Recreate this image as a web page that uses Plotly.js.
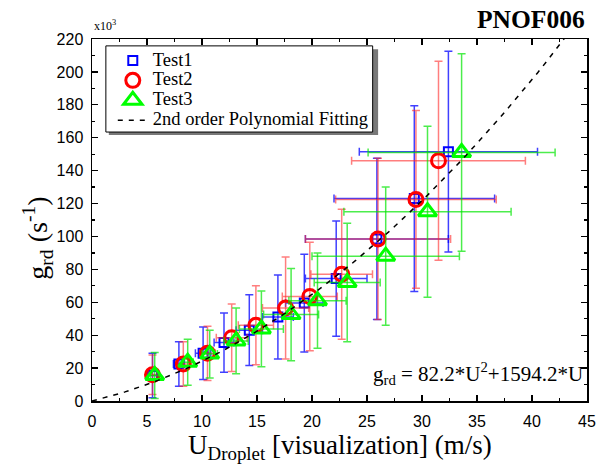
<!DOCTYPE html>
<html><head><meta charset="utf-8">
<script src="https://cdn.plot.ly/plotly-3.0.1.min.js"></script>
<style>html,body{margin:0;padding:0;background:#fff}</style>
</head><body>
<div id="chart" style="width:609px;height:470px"></div>
<script>
// Test1 (blue squares)
const t1_U  = [5.5, 7.9, 10.1, 12.0, 14.3, 16.9, 19.3, 22.2, 25.9, 29.3, 32.4];
const t1_g  = [15.5, 22.5, 29.0, 35.5, 43.0, 51.0, 59.5, 74.4, 98.5, 123.0, 151.5];
const t1_eU = [0.4, 0.5, 0.7, 0.9, 1.2, 1.4, 1.7, 2.8, 6.5, 7.3, 8.1];
const t1_eg = [13.5, 13.5, 16.0, 18.0, 21.5, 25.5, 29.7, 35.0, 49.0, 56.5, 61.0];
// Test2 (red circles)
const t2_U  = [5.5, 8.3, 10.5, 12.7, 14.9, 17.6, 19.8, 22.7, 26.0, 29.45, 31.5];
const t2_g  = [16.0, 22.5, 29.0, 38.5, 46.0, 56.5, 63.5, 77.0, 98.5, 122.5, 146.0];
const t2_eU = [0.4, 0.5, 0.7, 1.4, 1.6, 2.1, 2.5, 2.8, 6.6, 7.3, 7.9];
const t2_eg = [12.0, 13.5, 16.5, 20.5, 24.0, 31.0, 33.0, 39.5, 49.0, 54.0, 60.5];
// Test3 (green triangles)
const t3_U  = [5.7, 8.7, 10.7, 13.1, 15.4, 18.1, 20.5, 23.2, 26.7, 30.5, 33.6];
const t3_g  = [15.5, 23.5, 28.5, 36.5, 43.8, 52.5, 61.0, 72.0, 88.0, 115.0, 151.0];
const t3_eU = [0.4, 0.5, 0.7, 1.1, 2.0, 2.5, 2.6, 3.0, 6.7, 7.6, 8.5];
const t3_eg = [14.0, 14.0, 14.5, 20.0, 23.0, 28.0, 29.0, 36.0, 42.0, 52.0, 60.0];
// Fit coefficients printed on chart: g = a*U^2 + b*U  (s^-1), plotted in x10^3
const fitA = 82.2, fitB = 1594.2;
const fitU = [];
for (let u = 0; u <= 45.0001; u += 0.5) fitU.push(u);
const fitG = fitU.map(u => (fitA*u*u + fitB*u)/1000);

const serif = "Liberation Serif, Times New Roman, serif";
const sans = "Liberation Sans, Arial, sans-serif";
const big = s => '<span style="font-size:18.5px">' + s + '</span>';

function errTrace(name, x, y, ex, ey, color, barColor, symbol, size, lw) {
  return {
    type: 'scatter', mode: 'markers', name: big(name), x: x, y: y,
    marker: {symbol: symbol, size: size, color: color, line: {color: color, width: lw}},
    error_x: {type: 'data', array: ex, visible: true, color: barColor, thickness: 1.5, width: 4},
    error_y: {type: 'data', array: ey, visible: true, color: barColor, thickness: 1.5, width: 4},
    cliponaxis: false
  };
}

const traces = [
  errTrace('Test1', t1_U, t1_g, t1_eU, t1_eg, 'rgb(0,0,255)', 'rgba(0,0,255,0.75)', 'square-open', 9, 2),
  errTrace('Test2', t2_U, t2_g, t2_eU, t2_eg, 'rgb(255,0,0)', 'rgba(255,40,40,0.6)', 'circle-open', 14, 3),
  errTrace('Test3', t3_U, t3_g, t3_eU, t3_eg, 'rgb(0,255,0)', 'rgba(0,230,0,0.7)', 'triangle-up-open', 16, 3),
  {type: 'scatter', mode: 'lines', name: big('2nd order Polynomial Fitting'), x: fitU, y: fitG,
   line: {color: 'black', width: 1.5, dash: '5px,6px'}}
];

const axisCommon = {
  showline: true, linecolor: 'black', linewidth: 1.5, mirror: 'allticks',
  ticks: 'inside', ticklen: 6, tickwidth: 1.2, tickcolor: 'black',
  showgrid: false, zeroline: false,
  tickfont: {family: sans, size: 16, color: 'black'},
};

const layout = {
  width: 609, height: 470,
  margin: {l: 92, r: 22, t: 39, b: 69},
  paper_bgcolor: 'white', plot_bgcolor: 'white',
  showlegend: true,
  legend: {x: 0.042, y: 0.982, xanchor: 'left', yanchor: 'top',
           bgcolor: 'rgba(255,255,255,0)', borderwidth: 0,
           font: {family: serif, size: 13, color: 'black'}, tracegroupgap: 0},
  xaxis: Object.assign({}, axisCommon, {range: [0, 45], dtick: 5, ticklabelstandoff: 5,
         minor: {ticks: 'inside', dtick: 2.5, ticklen: 3, tickcolor: 'black', showgrid: false}}),
  yaxis: Object.assign({}, axisCommon, {range: [0, 220], dtick: 20, ticklabelstandoff: 4,
         minor: {ticks: 'inside', dtick: 10, ticklen: 3, tickcolor: 'black', showgrid: false}}),
  shapes: [
    {type: 'rect', xref: 'paper', yref: 'paper', x0: 0.034, x1: 0.578, y0: 0.735, y1: 0.972,
     fillcolor: 'rgb(120,120,120)', line: {width: 0}, layer: 'below'},
    {type: 'rect', xref: 'paper', yref: 'paper', x0: 0.028, x1: 0.567, y0: 0.743, y1: 0.981,
     fillcolor: 'white', line: {color: 'black', width: 1}, layer: 'below'}
  ],
  annotations: [
    {text: '<b>PNOF006</b>', xref: 'paper', yref: 'paper', x: 1.0, y: 1.0, xanchor: 'right', yanchor: 'bottom',
     yshift: 3, showarrow: false, font: {family: serif, size: 25.5, color: 'black'}},
    {text: 'x10<sup>3</sup>', xref: 'paper', yref: 'paper', x: 0.0, y: 1.0, xanchor: 'left', yanchor: 'bottom',
     yshift: 4, showarrow: false, font: {family: serif, size: 12, color: 'black'}},
    {text: 'g<sub>rd</sub> = 82.2*U<sup>2</sup>+1594.2*U', xref: 'paper', yref: 'paper', x: 0.995, y: 0.075,
     xanchor: 'right', yanchor: 'middle', showarrow: false, font: {family: serif, size: 21, color: 'black'}},
    {text: 'U<sub>Droplet</sub> [visualization] (m/s)', xref: 'paper', yref: 'paper', x: 0.5, y: -0.126,
     xanchor: 'center', yanchor: 'middle', showarrow: false, font: {family: serif, size: 27, color: 'black'}},
    {text: 'g<sub>rd</sub> (s<sup>-1</sup>)', xref: 'paper', yref: 'paper', x: -0.11, y: 0.45,
     xanchor: 'center', yanchor: 'middle', textangle: -90, showarrow: false,
     font: {family: serif, size: 28, color: 'black'}}
  ]
};

Plotly.newPlot('chart', traces, layout, {displayModeBar: false, staticPlot: true});
</script>
</body></html>
